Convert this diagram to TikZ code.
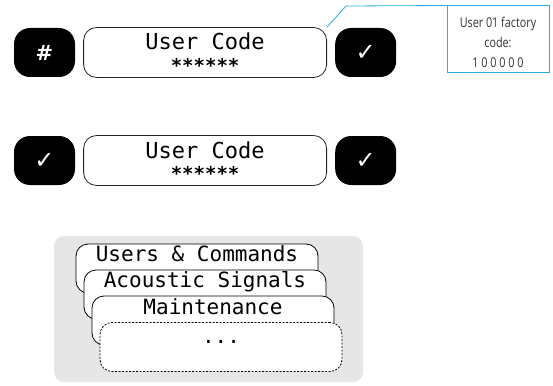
\documentclass[tikz,border=0pt]{standalone}
\usepackage{fontspec}
\usetikzlibrary{positioning}

\newfontfamily\lcdfont{DejaVu Sans Mono}
\newfontfamily\symfont{DejaVu Sans}
\newfontfamily\notefont[FakeStretch=0.8]{Open Sans}

\definecolor{calloutblue}{HTML}{29ABE2}
\definecolor{notegray}{HTML}{333333}
\definecolor{panelgray}{HTML}{E6E6E6}

\tikzset{
  key/.style={fill=black, rounded corners=16pt, minimum width=61pt, minimum height=49pt,
    inner sep=0pt, text=white, font=\symfont\fontsize{24}{24}\selectfont},
  display/.style={draw=black!85, line width=0.8pt, fill=white, rounded corners=13pt,
    minimum width=243pt, minimum height=50pt, inner sep=0pt},
  lcd/.style={font=\lcdfont\fontsize{22}{22}\selectfont, inner sep=0pt, anchor=base},
  pin/.style={font=\lcdfont\bfseries\fontsize{19}{19}\selectfont, inner sep=0pt, anchor=base},
  tab/.style={draw=black, line width=0.8pt, fill=white, rounded corners=12pt,
    minimum width=242pt, minimum height=49pt, inner sep=0pt},
  tablabel/.style={font=\lcdfont\fontsize{21}{21}\selectfont, inner sep=0pt, anchor=base},
  note/.style={draw=calloutblue, line width=1pt, minimum width=102pt, minimum height=67pt,
    align=center, text=notegray, font=\notefont\fontsize{13.5}{20}\selectfont},
}

\begin{document}
\begin{tikzpicture}[x=1pt, y=-1pt]
  \useasboundingbox (0,0) rectangle (553,385);

  % Enter the code
  \node[key] (hash) at (44.5,52.5) {\fontsize{21}{21}\selectfont\bfseries\#};
  \node[display, right=8pt of hash] (disp1) {};
  \node[lcd] (title1) at ([yshift=2.5pt]disp1.center) {User Code};
  \node[pin] (pin1) at ([yshift=-20pt]disp1.center) {******};
  \node[key, right=8pt of disp1] (ok1) {✓};

  % Factory code note
  \node[note] (factory) at (498,39.5) {\rule{0pt}{16pt}User 01 factory\\code:\\1 0 0 0 0 0};
  \coordinate (bend) at (346,6);
  \draw[calloutblue, line width=0.8pt] (disp1.north east) -- (bend) -- (factory.north west);

  % Confirm the code
  \node[key] (ok2) at (44.5,160.5) {✓};
  \node[display, right=8pt of ok2] (disp2) {};
  \node[lcd] (title2) at ([yshift=2.5pt]disp2.center) {User Code};
  \node[pin] (pin2) at ([yshift=-20pt]disp2.center) {******};
  \node[key, right=8pt of disp2] (ok3) {✓};

  % Menu pages
  \node[fill=panelgray, rounded corners=10pt, minimum width=309pt, minimum height=146pt,
    inner sep=0pt] (panel) at (208.5,309) {};
  \node[tab] (tab1) at (197,268.5) {};
  \node[tablabel] (users) at ([yshift=-18pt]tab1.north) {Users \& Commands};
  \node[tab] (tab2) at (205,294.5) {};
  \node[tablabel] (acoustic) at ([yshift=-18pt]tab2.north) {Acoustic Signals};
  \node[tab] (tab3) at (213,320.5) {};
  \node[tablabel] (maint) at ([yshift=-19pt]tab3.north) {Maintenance};
  \node[tab, dashed, dash pattern=on 2pt off 1.5pt] (tab4) at (221,347) {};
  \node[tablabel] (more) at ([yshift=-21pt]tab4.north) {...};
\end{tikzpicture}
\end{document}
